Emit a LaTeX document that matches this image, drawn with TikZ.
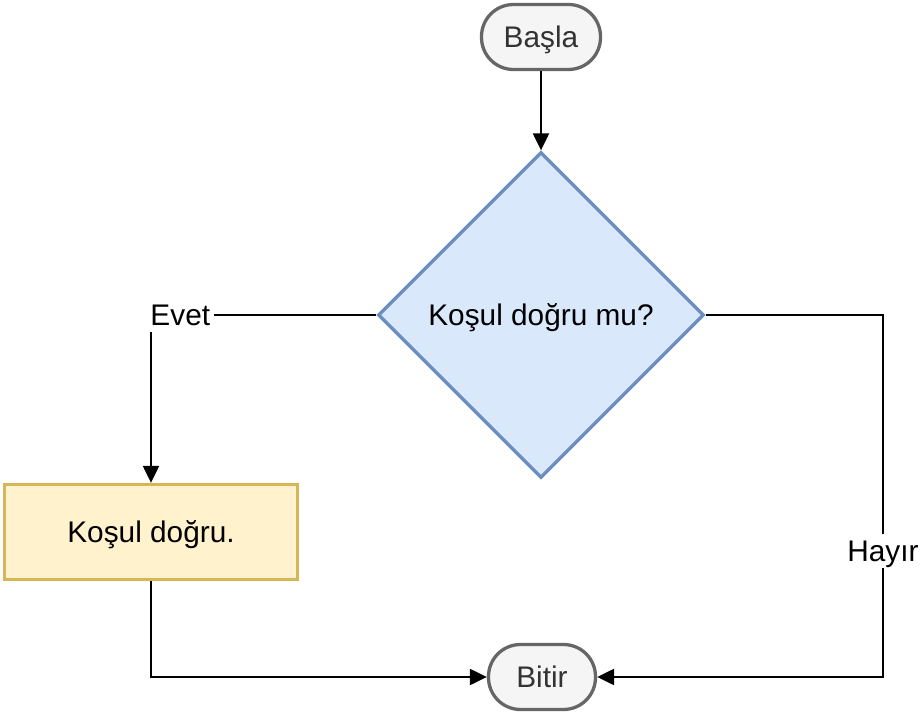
\documentclass[tikz,border=0pt]{standalone}
\usepackage{fontspec}
\setmainfont{Liberation Sans}
\usetikzlibrary{shapes.geometric,arrows.meta,calc}
\definecolor{termfill}{HTML}{F5F5F5}
\definecolor{termdraw}{HTML}{666666}
\definecolor{termtext}{HTML}{333333}
\definecolor{decfill}{HTML}{DAE8FC}
\definecolor{decdraw}{HTML}{6C8EBF}
\definecolor{procfill}{HTML}{FFF2CC}
\definecolor{procdraw}{HTML}{D6B656}
\tikzset{
  txt/.style={font=\fontsize{29.8}{34}\selectfont, text height=21.4pt, text depth=0pt},
  term/.style={txt, draw=termdraw, fill=termfill, text=termtext, line width=3.3pt,
    rectangle, rounded corners=32pt, inner sep=0pt},
  decision/.style={txt, draw=decdraw, fill=decfill, line width=3.3pt, diamond,
    inner sep=0pt, minimum width=326pt, minimum height=326pt},
  process/.style={txt, draw=procdraw, fill=procfill, line width=3.3pt, rectangle,
    inner sep=0pt, minimum width=293pt, minimum height=95pt},
  arrow/.style={line width=2.2pt, -{Triangle[length=17pt 0 0,width=16pt 0 0]}},
  lbl/.style={txt, fill=white, inner xsep=4pt, inner ysep=6pt}
}
\begin{document}
\begin{tikzpicture}[x=1pt,y=-1pt]
\useasboundingbox (0,0) rectangle (922,714);
\node[term, minimum width=119pt, minimum height=65pt] (start) at (541,37) {Başla};
\node[decision] (dec) at (541,315) {Koşul doğru mu?};
\node[process] (proc) at (151,532) {Koşul doğru.};
\node[term, minimum width=107pt, minimum height=65pt] (stop) at (542,677) {Bitir};
\coordinate (hx) at (883,0);
\draw[arrow] (start.south) -- (dec.north);
\draw[arrow] (dec.west) -| node[lbl, pos=0.435] {Evet} (proc.north);
\draw[arrow] (dec.east) -- (dec.east -| hx) -- node[lbl, pos=0.652] {Hayır} (hx |- stop.east) -- (stop.east);
\draw[arrow] (proc.south) |- (stop.west);
\end{tikzpicture}
\end{document}
